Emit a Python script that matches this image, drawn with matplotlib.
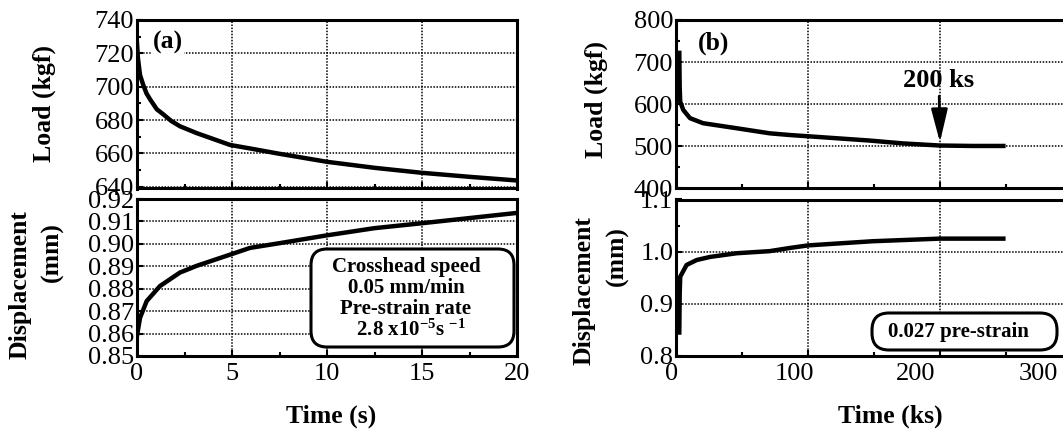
#!/usr/bin/env python
"""
Stress relaxation during pre-strain: load and displacement vs time,
(a) short-time (s) and (b) long-time (ks) records.
"""

import matplotlib.pyplot as plt
import matplotlib.patches as mpatches
import matplotlib.transforms as mtransforms
from matplotlib.ticker import MultipleLocator, FormatStrFormatter

plt.rcParams['font.family'] = ['Liberation Serif', 'DejaVu Serif']
plt.rcParams['mathtext.fontset'] = 'custom'
plt.rcParams['mathtext.rm'] = 'Liberation Serif'
plt.rcParams['mathtext.bf'] = 'Liberation Serif:bold'
plt.rcParams['mathtext.default'] = 'bf'

##############################################################################
#                               DATA
##############################################################################

# (a) time in s
time_a_load = [0, 0.05, 0.16, 0.33, 0.5, 0.68, 1.04, 1.39, 1.8, 2.26, 3.14, 4.9,
               5.95, 7.5, 10, 12.5, 15, 17.5, 20]
load_a = [726, 717, 707, 701, 696, 692.6, 686.5, 683.4, 679.5, 676.3, 672.2, 665.1,
          663, 659.8, 655, 651.4, 648.4, 646, 643.8]

time_a_disp = [0, 0.16, 0.51, 1.21, 2.26, 3.14, 4.9, 5.95, 7.5, 10, 12.5, 15, 17.5, 20]
disp_a = [0.859, 0.867, 0.8745, 0.8812, 0.8872, 0.8902, 0.8952, 0.8982, 0.9003, 0.9038,
          0.907, 0.9092, 0.9115, 0.9138]

# (b) time in ks
time_b_load = [2.5, 2.8, 3.2, 5.5, 10.6, 20.5, 46, 71, 86, 100, 146, 172, 200, 225, 248]
load_b = [722, 640, 606, 586.5, 567, 555, 543, 531, 527, 524, 514, 507, 502, 501, 501]

time_b_disp = [2.5, 2.8, 3.2, 8, 15.7, 26, 46, 71, 86, 100, 149, 200, 248]
disp_b = [0.845, 0.92, 0.952, 0.9745, 0.984, 0.990, 0.997, 1.001, 1.007, 1.012, 1.020,
          1.025, 1.025]

XTICKS_A = [0, 5, 10, 15, 20]
XTICKS_B = [0, 100, 200, 300]

##############################################################################
#                               LAYOUT
##############################################################################

W, H = 1063, 430
fig = plt.figure(figsize=(W / 100, H / 100), dpi=100)
# pixel coords measured from the top-left corner
PIX = mtransforms.Affine2D().scale(1, -1).translate(0, H)


def px_axes(x0, y0, x1, y1):
    return fig.add_axes([x0 / W, 1 - y1 / H, (x1 - x0) / W, (y1 - y0) / H])


def px_text(x, y, s, size=18.5, weight='bold', rotation=0, **kw):
    return fig.text(x / W, 1 - y / H, s, ha='center', va='center', fontsize=size,
                    fontweight=weight, rotation=rotation, **kw)


def style(ax):
    for sp in ax.spines.values():
        sp.set_linewidth(2.2)
    ax.grid(True, which='major', ls=(0, (1, 1)), lw=1.1, color='k')
    ax.tick_params(which='both', direction='in', labelsize=19, pad=2,
                   top=False, right=False)
    ax.tick_params(which='major', length=4, width=1.5)
    ax.tick_params(which='minor', length=3, width=1.5)
    ax.tick_params(axis='x', pad=5)


B_RIGHT = 676 + 330 * 1.32
ax_a1 = px_axes(137, 20, 517, 188.5)
ax_a2 = px_axes(137, 199, 517, 356)
ax_b1 = px_axes(676, 20, B_RIGHT, 188.5)
ax_b2 = px_axes(676, 199.5, B_RIGHT, 356)

LW = 3.2

# ---- (a) load ----
ax_a1.plot(time_a_load, load_a, color='k', lw=LW)
ax_a1.set_xlim(0, 20)
ax_a1.set_ylim(639, 740)
ax_a1.xaxis.set_major_locator(MultipleLocator(5))
ax_a1.xaxis.set_minor_locator(MultipleLocator(2.5))
ax_a1.yaxis.set_major_locator(MultipleLocator(20))
ax_a1.yaxis.set_minor_locator(MultipleLocator(10))
style(ax_a1)
ax_a1.tick_params(labelbottom=False)

# ---- (a) displacement ----
ax_a2.plot(time_a_disp, disp_a, color='k', lw=LW)
ax_a2.set_xlim(0, 20)
ax_a2.set_ylim(0.85, 0.92)
ax_a2.set_xticks(XTICKS_A)
ax_a2.xaxis.set_minor_locator(MultipleLocator(2.5))
ax_a2.yaxis.set_major_locator(MultipleLocator(0.01))
ax_a2.yaxis.set_major_formatter(FormatStrFormatter('%.2f'))
style(ax_a2)

# ---- (b) load ----
ax_b1.plot(time_b_load, load_b, color='k', lw=LW)
ax_b1.set_xlim(0, 330)
ax_b1.set_ylim(400, 800)
ax_b1.xaxis.set_major_locator(MultipleLocator(100))
ax_b1.xaxis.set_minor_locator(MultipleLocator(50))
ax_b1.yaxis.set_major_locator(MultipleLocator(100))
ax_b1.yaxis.set_minor_locator(MultipleLocator(50))
style(ax_b1)
ax_b1.tick_params(labelbottom=False)

# ---- (b) displacement ----
ax_b2.plot(time_b_disp, disp_b, color='k', lw=LW)
ax_b2.set_xlim(0, 330)
ax_b2.set_ylim(0.8, 1.1)
ax_b2.set_xticks(XTICKS_B)
ax_b2.xaxis.set_minor_locator(MultipleLocator(50))
ax_b2.yaxis.set_major_locator(MultipleLocator(0.1))
ax_b2.yaxis.set_minor_locator(MultipleLocator(0.05))
ax_b2.yaxis.set_major_formatter(FormatStrFormatter('%.1f'))
style(ax_b2)

# the printed labels in (b) sit a bit left of their grid lines
for tick, val in zip(ax_b2.xaxis.get_major_ticks(), XTICKS_B):
    off = mtransforms.ScaledTranslation((-4 - 0.1 * val) / 100, 0, fig.dpi_scale_trans)
    tick.label1.set_transform(tick.label1.get_transform() + off)

##############################################################################
#                            LABELS / NOTES
##############################################################################

px_text(44, 104, 'Load (kgf)', rotation=90)
px_text(20, 285, 'Displacement', rotation=90)
px_text(52, 252, '(mm)', rotation=90)
px_text(331, 416, 'Time (s)')

px_text(596, 100, 'Load (kgf)', rotation=90)
px_text(584, 291, 'Displacement', rotation=90)
px_text(617, 256, '(mm)', rotation=90)
px_text(890, 416, 'Time (ks)')

px_text(168, 42, '(a)', bbox=dict(fc='white', ec='none', pad=1))
px_text(714, 43, '(b)')

ax_b1.annotate('200 ks', xy=(200, 500), xytext=(939, 87), textcoords=PIX,
               ha='center', va='baseline', fontsize=19, fontweight='bold',
               arrowprops=dict(arrowstyle='-|>,head_length=1.0,head_width=0.25',
                               color='k', lw=2, mutation_scale=20,
                               shrinkA=1, shrinkB=3))

box_a = mpatches.FancyBboxPatch((311, 249), 203, 98,
                                boxstyle='round,pad=0,rounding_size=16',
                                transform=PIX, fc='white', ec='k', lw=2.2, zorder=5)
fig.add_artist(box_a)
px_text(406, 299, 'Crosshead speed\n0.05 mm/min\nPre-strain rate\n  2.8 x10$^{-5}$s $^{-1}$',
        size=15, linespacing=1.05, zorder=6)

box_b = mpatches.FancyBboxPatch((872, 313), 185, 37,
                                boxstyle='round,pad=0,rounding_size=17',
                                transform=PIX, fc='white', ec='k', lw=2.2, zorder=5)
fig.add_artist(box_b)
px_text(958, 332, '0.027 pre-strain', size=15, zorder=6)

fig.savefig('out.png', dpi=100)
